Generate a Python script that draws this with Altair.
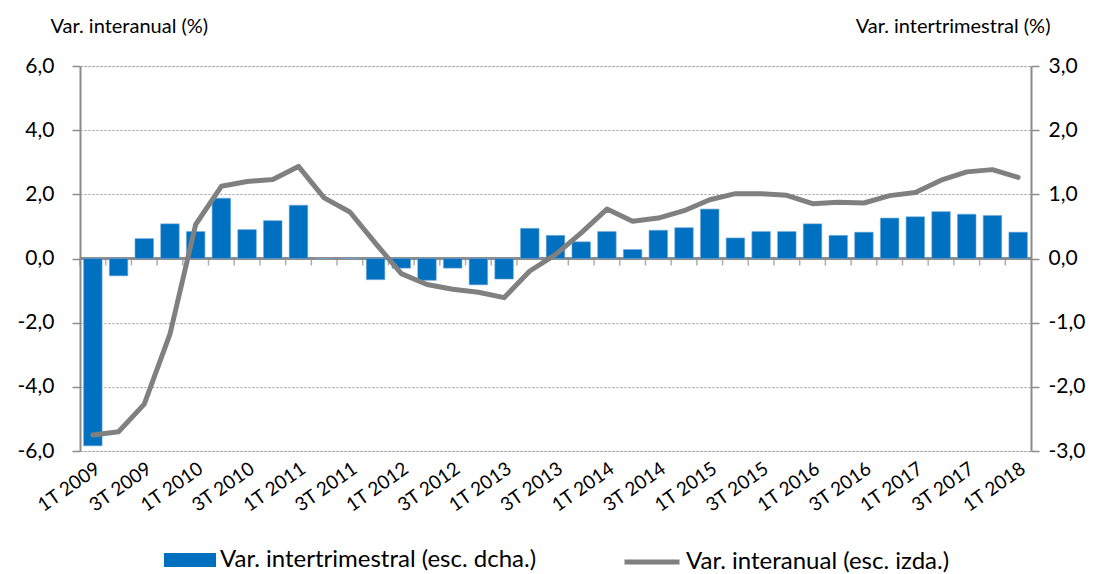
import altair as alt
import pandas as pd

quarters = [
    "1T 2009", "2T 2009", "3T 2009", "4T 2009",
    "1T 2010", "2T 2010", "3T 2010", "4T 2010",
    "1T 2011", "2T 2011", "3T 2011", "4T 2011",
    "1T 2012", "2T 2012", "3T 2012", "4T 2012",
    "1T 2013", "2T 2013", "3T 2013", "4T 2013",
    "1T 2014", "2T 2014", "3T 2014", "4T 2014",
    "1T 2015", "2T 2015", "3T 2015", "4T 2015",
    "1T 2016", "2T 2016", "3T 2016", "4T 2016",
    "1T 2017", "2T 2017", "3T 2017", "4T 2017",
    "1T 2018",
]
shown_labels = quarters[::2]

# Var. intertrimestral (%), right axis
intertrimestral = [
    -2.92, -0.27, 0.31, 0.54,
    0.42, 0.94, 0.45, 0.59,
    0.83, 0.00, 0.00, -0.33,
    -0.15, -0.34, -0.15, -0.41,
    -0.32, 0.47, 0.36, 0.26,
    0.42, 0.14, 0.44, 0.48,
    0.77, 0.32, 0.42, 0.42,
    0.54, 0.36, 0.41, 0.63,
    0.65, 0.73, 0.69, 0.67,
    0.41,
]

# Var. interanual (%), left axis
interanual = [
    -5.50, -5.40, -4.54, -2.36,
    1.06, 2.25, 2.40, 2.46,
    2.87, 1.89, 1.45, 0.47,
    -0.47, -0.81, -0.96, -1.05,
    -1.22, -0.39, 0.12, 0.80,
    1.54, 1.16, 1.26, 1.49,
    1.83, 2.02, 2.02, 1.97,
    1.71, 1.75, 1.73, 1.96,
    2.06, 2.44, 2.70, 2.77,
    2.53,
]

left_ticks = [-6, -4, -2, 0, 2, 4, 6]
right_ticks = [-3, -2, -1, 0, 1, 2, 3]

bar_name = "Var. intertrimestral (esc. dcha.)"
line_name = "Var. interanual (esc. izda.)"

df = pd.DataFrame({
    "trimestre": quarters,
    "intertrimestral": intertrimestral,
    "interanual": interanual,
    "cero": [0.0] * len(quarters),
    "serie_b": bar_name,
    "serie_l": line_name,
})

W, H = 951, 385
FONT = "Lato"
GRAY = "#8c8c8c"
comma_expr = "replace(replace(format(datum.value, '.1f'), '.', ','), '\u2212', '-')"

x_scale = alt.Scale(domain=quarters, paddingInner=0.28, paddingOuter=0.14)


def yr_scale():
    return alt.Scale(domain=[-3, 3], nice=False, zero=False)


# horizontal category axis line at zero
zero_rule = alt.Chart(df).mark_rule(color=GRAY, strokeWidth=2).encode(
    y=alt.Y("cero:Q", scale=yr_scale(), axis=None)
)

bars = alt.Chart(df).mark_bar(color="#0070C0", stroke="#6fa8dc", strokeWidth=0.6).encode(
    x=alt.X("trimestre:N", sort=quarters, scale=x_scale,
            axis=alt.Axis(orient="bottom", values=shown_labels, domain=False,
                          ticks=False, grid=False, title=None, labelAngle=-35,
                          labelAlign="right", labelBaseline="top",
                          labelPadding=8, labelFontSize=19, labelFont=FONT,
                          labelColor="#000000", labelOverlap=False)),
    y=alt.Y("intertrimestral:Q", scale=yr_scale(),
            axis=alt.Axis(orient="right", values=right_ticks, labelExpr=comma_expr,
                          grid=False, domainColor=GRAY, domainWidth=2,
                          tickColor=GRAY, tickSize=8, tickWidth=1.5,
                          labelFontSize=21, labelPadding=9, labelColor="#000000",
                          labelFont=FONT,
                          title="Var. intertrimestral (%)", titleAngle=0,
                          titleAlign="right", titleBaseline="alphabetic",
                          titleX=19, titleY=-34, titleFontSize=20,
                          titleFontWeight="normal", titleFont=FONT,
                          titleColor="#000000")),
    color=alt.Color("serie_b:N",
                    scale=alt.Scale(domain=[bar_name], range=["#0070C0"]),
                    legend=alt.Legend(orient="none", legendX=84, legendY=468,
                                      title=None, padding=0,
                                      symbolType="M-1,-0.27H1V0.27H-1Z",
                                      symbolSize=2704, symbolStrokeWidth=0,
                                      labelFontSize=24, labelFont=FONT,
                                      labelColor="#000000", labelOffset=4,
                                      labelLimit=600)),
)

# small category ticks hanging below the zero line
zero_ticks = alt.Chart(df).mark_tick(
    color=GRAY, thickness=1.5, size=7, orient="vertical", yOffset=3.5, xOffset=-3.6
).encode(
    x=alt.X("trimestre:N", sort=quarters, scale=x_scale, bandPosition=0),
    y=alt.Y("cero:Q", scale=yr_scale(), axis=None),
)

line = alt.Chart(df).mark_line(strokeWidth=5, strokeCap="round", strokeJoin="round").encode(
    x=alt.X("trimestre:N", sort=quarters, scale=x_scale),
    y=alt.Y("interanual:Q",
            scale=alt.Scale(domain=[-6, 6], nice=False, zero=False),
            axis=alt.Axis(orient="left", values=left_ticks, labelExpr=comma_expr,
                          grid=True, gridColor="#9a9a9a", gridDash=[2, 2],
                          gridWidth=1.2,
                          domainColor=GRAY, domainWidth=2,
                          tickColor=GRAY, tickSize=8, tickWidth=1.5,
                          labelFontSize=21, labelPadding=18, labelColor="#000000",
                          labelFont=FONT,
                          title="Var. interanual (%)", titleAngle=0,
                          titleAlign="left", titleBaseline="alphabetic",
                          titleX=-30, titleY=-34, titleFontSize=20,
                          titleFontWeight="normal", titleFont=FONT,
                          titleColor="#000000")),
    stroke=alt.Stroke("serie_l:N",
                      scale=alt.Scale(domain=[line_name], range=["#808080"]),
                      legend=alt.Legend(orient="none", legendX=542, legendY=466,
                                        title=None, padding=0,
                                        symbolType="stroke", symbolSize=3025,
                                        symbolStrokeWidth=5,
                                        labelFontSize=24, labelFont=FONT,
                                        labelColor="#000000", labelOffset=4,
                                        labelLimit=600)),
)

chart = (
    alt.layer(zero_rule, bars, zero_ticks, line)
    .resolve_scale(y="independent", color="independent", stroke="independent")
    .resolve_legend(color="independent", stroke="independent")
    .properties(
        width=W, height=H,
        autosize=alt.AutoSizeParams(type="none"),
        padding={"left": 72, "top": 58, "right": 63, "bottom": 123},
    )
    .configure_view(stroke="#9a9a9a", strokeWidth=1.5)
    .configure(font=FONT)
)

chart.save("out.html", embed_options={"renderer": "svg", "actions": False})
